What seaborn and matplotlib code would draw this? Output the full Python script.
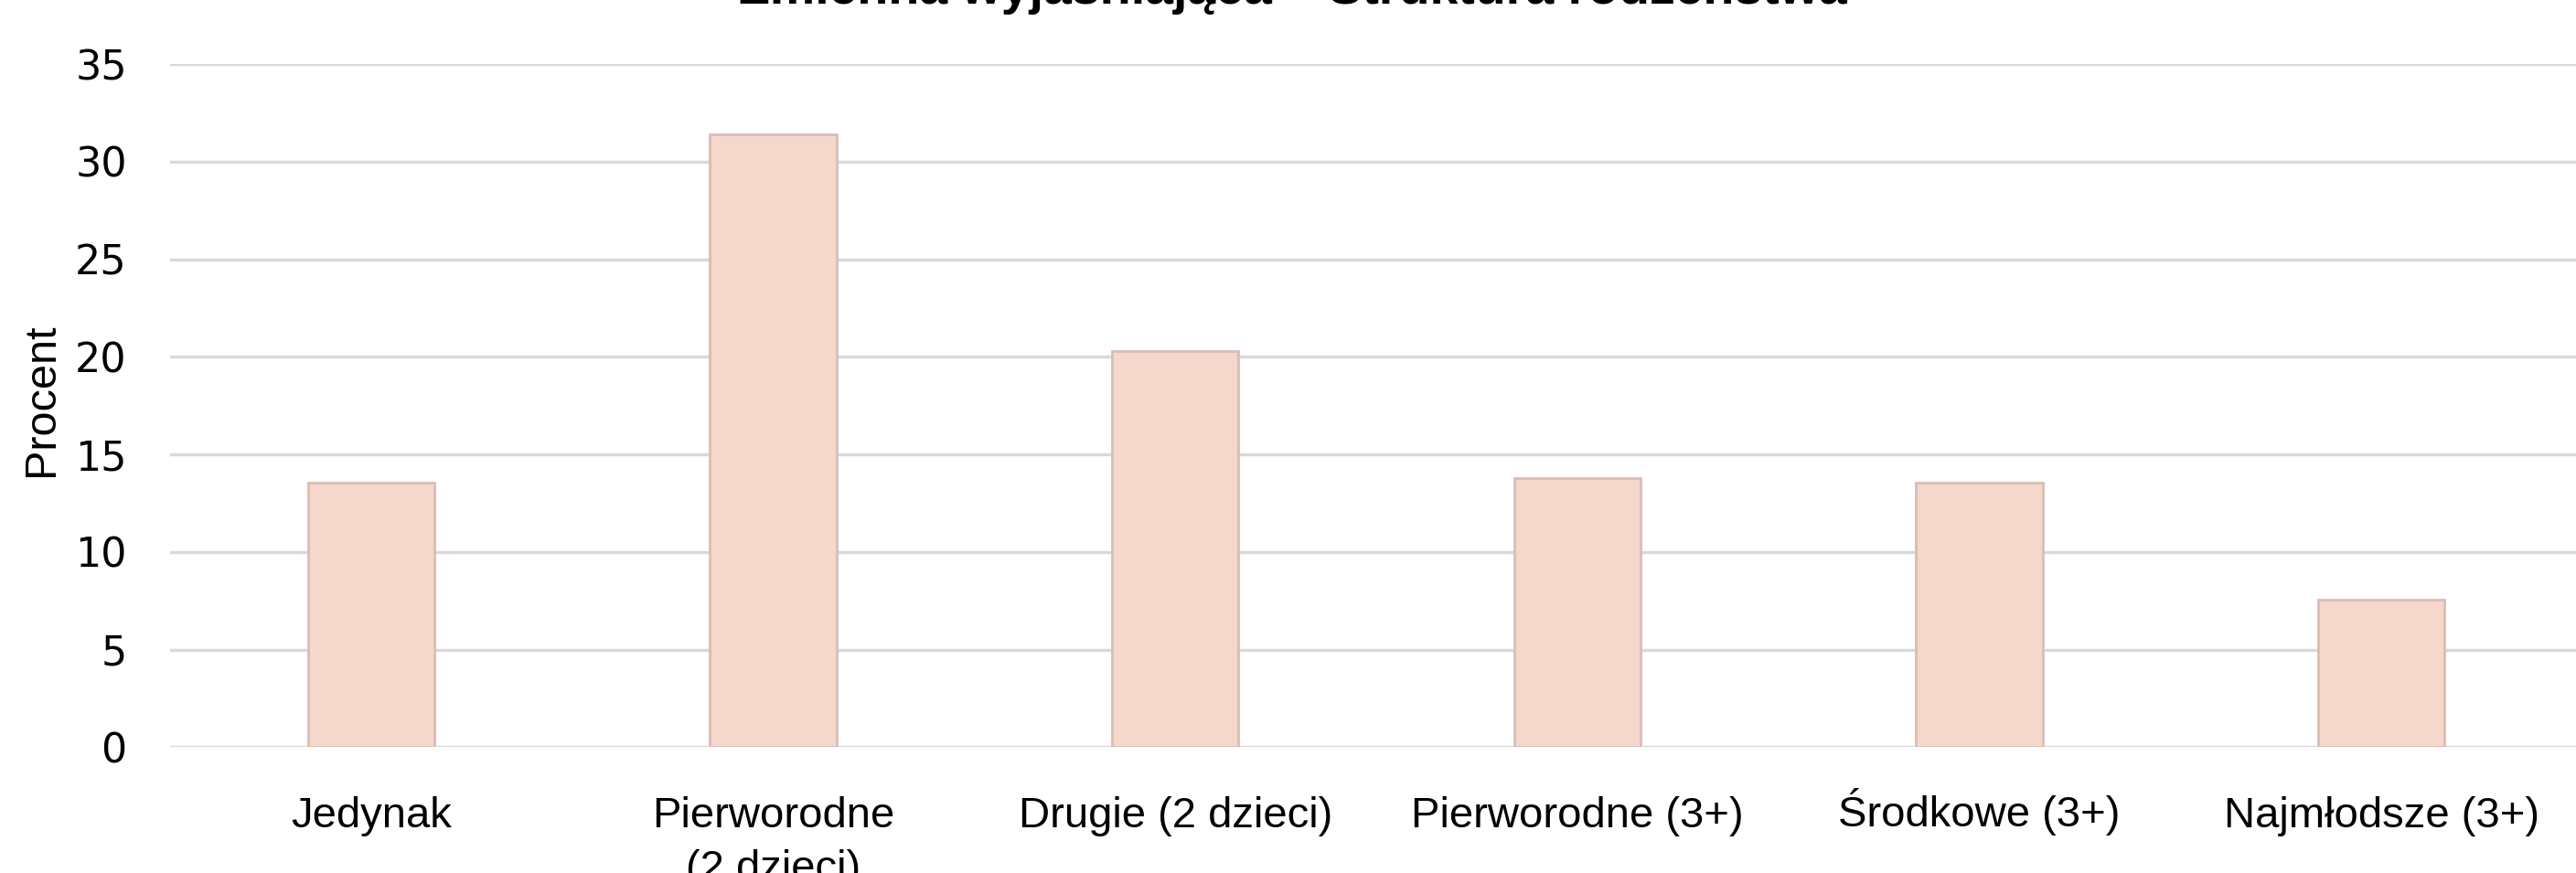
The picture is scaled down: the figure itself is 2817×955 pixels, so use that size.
import matplotlib
matplotlib.use("Agg")
import matplotlib.pyplot as plt
import matplotlib.transforms as mtransforms
import seaborn as sns
import pandas as pd

categories = ["Jedynak", "Pierworodne\n(2 dzieci)", "Drugie (2 dzieci)",
              "Pierworodne (3+)", "Środkowe (3+)", "Najmłodsze (3+)"]
values = [13.54, 31.38, 20.28, 13.80, 13.54, 7.56]
yticks = [0, 5, 10, 15, 20, 25, 30, 35]
title = "Zmienna wyjaśniająca – Struktura rodzeństwa"
ylabel = "Procent"

sns.set_theme(style="white")
plt.rcParams["font.family"] = ["Liberation Sans", "DejaVu Sans"]
text_font = ["Liberation Sans", "DejaVu Sans"]

df = pd.DataFrame({"kat": categories, "proc": values})

fig = plt.figure(figsize=(28.17, 9.55), dpi=100)
ax = fig.add_axes([186/2817, 137.7/955, (2824-186)/2817, (817.3-70)/955])

sns.barplot(data=df, x="kat", y="proc", ax=ax, width=0.314,
            color="#F6D7CC", edgecolor="#D9BDB6", linewidth=2.0, saturation=1)

ax.set_ylim(0, 35)
ax.set_xlim(-0.5, 5.5)
ax.set_yticks(yticks)
ax.set_yticklabels([str(t) for t in yticks], family="DejaVu Sans", fontsize=32, color="#000000")
ax.tick_params(axis="y", length=0, pad=34)
ax.tick_params(axis="x", length=0, pad=39)
ax.set_xticks(range(len(categories)))
ax.set_xticklabels(categories, family=text_font, fontsize=34,
                   color="#000000", linespacing=1.4)
# labels with an accent on a capital are taller; lift them so baselines line up
for lab in ax.get_xticklabels():
    if "Ś" in lab.get_text():
        lab.set_transform(lab.get_transform() +
                          mtransforms.ScaledTranslation(0, 6.5/72, fig.dpi_scale_trans))
ax.yaxis.grid(True, color="#D9D9D9", linewidth=2.5)
ax.set_axisbelow(True)
for s in ax.spines.values():
    s.set_visible(False)
ax.set_xlabel("")
ax.set_ylabel("")

fig.text(45/2817, 1 - 437/955, ylabel, rotation=90, ha="center", va="center",
         family=text_font, fontsize=35, color="#000000")
fig.text(1414/2817, 1 - 4/955, title, ha="center", va="baseline",
         family=text_font, fontweight="bold", fontsize=40, color="#000000")

fig.savefig("out.png", dpi=100)
